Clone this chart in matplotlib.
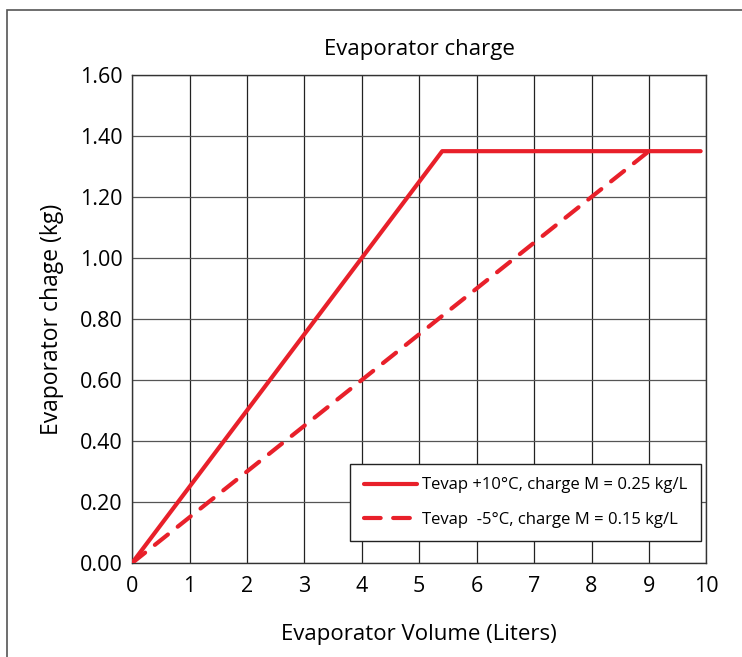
import matplotlib
matplotlib.use("Agg")
import matplotlib.pyplot as plt
from matplotlib.patches import Rectangle

plt.rcParams['font.family'] = ['Open Sans', 'DejaVu Sans']

# Data
vol_warm = [0, 5.4, 9.9]
charge_warm = [0, 1.35, 1.35]
vol_cold = [0, 9.0]
charge_cold = [0, 1.35]
label_warm = "Tevap +10°C, charge M = 0.25 kg/L"
label_cold = "Tevap  -5°C, charge M = 0.15 kg/L"
xticks = list(range(0, 11))
yticks = [0.0, 0.2, 0.4, 0.6, 0.8, 1.0, 1.2, 1.4, 1.6]

red = '#e8202a'

fig = plt.figure(figsize=(7.42, 6.57), dpi=100)
fig.patches.append(Rectangle((0.009, -0.02), 1.0, 1.005, transform=fig.transFigure,
                             fill=False, edgecolor='#555555', linewidth=1.2))

ax = fig.add_axes([0.178, 0.143, 0.774, 0.743])
ax.plot(vol_warm, charge_warm, color=red, lw=3.0, solid_capstyle='round',
        label=label_warm, zorder=3)
ax.plot(vol_cold, charge_cold, color=red, lw=3.0, linestyle=(0, (4, 3)),
        dash_capstyle='round', label=label_cold, zorder=3)

ax.set_xlim(0, 10)
ax.set_ylim(0, 1.6)
ax.set_xticks(xticks)
ax.set_yticks(yticks)
ax.set_xticklabels([str(t) for t in xticks])
ax.set_yticklabels([f"{t:.2f}" for t in yticks])
ax.tick_params(axis='both', length=0, labelsize=15.5)
ax.tick_params(axis='x', pad=9)
ax.tick_params(axis='y', pad=7)

for x in xticks:
    ax.axvline(x, color='#222222', lw=0.9, zorder=1)
for y in yticks:
    ax.axhline(y, color='#555555', lw=0.9, zorder=1)
for s in ax.spines.values():
    s.set_color('#333333')
    s.set_linewidth(1.0)

ax.set_title("Evaporator charge", fontsize=16, pad=14)
ax.set_xlabel("Evaporator Volume (Liters)", fontsize=16, labelpad=20)
ax.set_ylabel("Evaporator chage (kg)", fontsize=16.5, labelpad=11)

leg = ax.legend(loc='lower right', bbox_to_anchor=(0.99, 0.045), fontsize=12,
                frameon=True, fancybox=False, edgecolor='#222222',
                handlelength=3.2, handletextpad=0.3, labelspacing=1.1,
                borderpad=0.8, borderaxespad=0)
leg.get_frame().set_linewidth(1.0)
leg.get_frame().set_alpha(1)

fig.savefig("out.png", dpi=100)
